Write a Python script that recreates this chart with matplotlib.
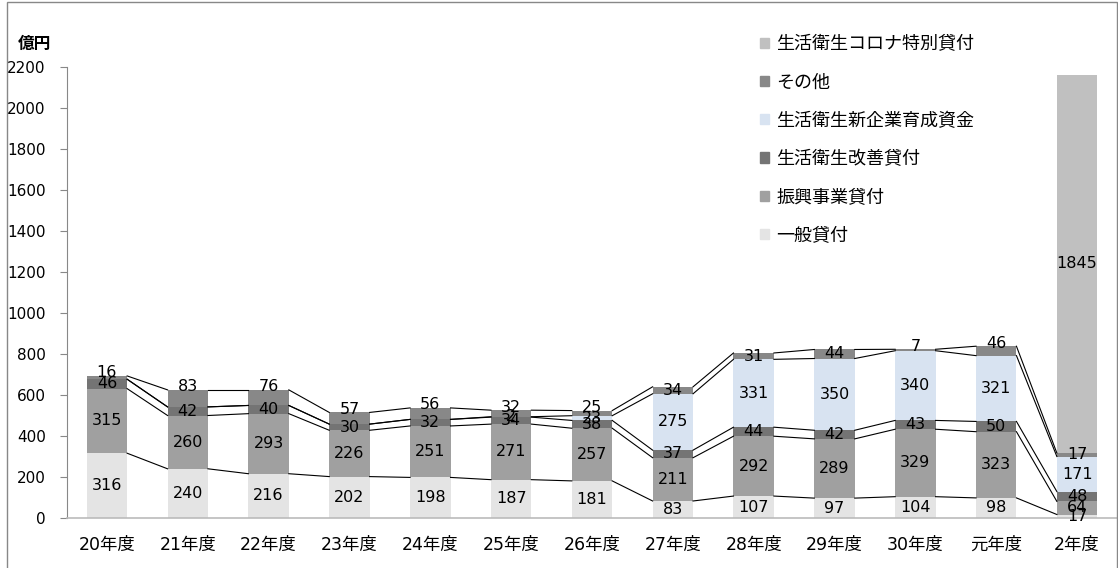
import matplotlib
matplotlib.use('Agg')
import matplotlib.pyplot as plt
from matplotlib.patches import Rectangle, Patch
import numpy as np

plt.rcParams['font.family'] = ['DejaVu Sans', 'Noto Sans CJK JP']

# data (億円)
years = ['20年度', '21年度', '22年度', '23年度', '24年度', '25年度', '26年度',
         '27年度', '28年度', '29年度', '30年度', '元年度', '2年度']
ippan = [316, 240, 216, 202, 198, 187, 181, 83, 107, 97, 104, 98, 17]
shinko = [315, 260, 293, 226, 251, 271, 257, 211, 292, 289, 329, 323, 64]
kaizen = [46, 42, 40, 30, 32, 34, 38, 37, 44, 42, 43, 50, 48]
shinkigyo = [0, 0, 0, 0, 0, 2, 23, 275, 331, 350, 340, 321, 171]
sonota = [16, 83, 76, 57, 56, 32, 25, 34, 31, 44, 7, 46, 17]
corona = [0, 0, 0, 0, 0, 0, 0, 0, 0, 0, 0, 0, 1845]

names = ['一般貸付', '振興事業貸付', '生活衛生改善貸付', '生活衛生新企業育成資金', 'その他', '生活衛生コロナ特別貸付']
series = [ippan, shinko, kaizen, shinkigyo, sonota, corona]
colors = ['#e4e4e4', '#a0a0a0', '#747474', '#d8e3f1', '#888888', '#c0c0c0']

fig = plt.figure(figsize=(11.18, 5.68), dpi=100)
ax = fig.add_axes([66.5 / 1118, 50 / 568, 1051 / 1118, 451 / 568])

x = np.arange(len(years))
w = 0.5
bottom = np.zeros(len(years))
tops = []
for vals, name, c in zip(series, names, colors):
    vals = np.array(vals, dtype=float)
    ax.bar(x, vals, w, bottom=bottom, color=c, label=name, zorder=2)
    for i, v in enumerate(vals):
        if v <= 0:
            continue
        # その他 labels sit at the top edge of the bar in most years
        if name == 'その他' and i not in (7, 8, 9, 12):
            ypos = bottom[i] + v + 15
        else:
            ypos = bottom[i] + v / 2
        ax.text(x[i], ypos, str(int(v)), ha='center', va='center', fontsize=11.5, zorder=4)
    bottom = bottom + vals
    tops.append(bottom.copy())

# series lines between bars (not for corona)
for t in tops[:5]:
    for i in range(len(years) - 1):
        ax.plot([x[i] + w / 2, x[i + 1] - w / 2], [t[i], t[i + 1]], color='black', lw=0.8, zorder=3)

ax.set_xlim(-0.5, 12.5)
ax.set_ylim(0, 2200)
ax.set_yticks(range(0, 2201, 200))
ax.set_xticks(x)
ax.set_xticklabels(years, fontsize=12.5)
ax.tick_params(axis='y', labelsize=11, length=5, color='#888888', pad=10)
ax.tick_params(axis='x', length=0, pad=13)
for s in ['top', 'right']:
    ax.spines[s].set_visible(False)
ax.spines['left'].set_color('#888888')
ax.spines['bottom'].set_color('#bbbbbb')
ax.spines['bottom'].set_linewidth(1.2)

fig.text(18 / 1118, 1 - 44 / 568, '億円', fontsize=12, fontweight='bold', va='center', ha='left')

handles = [Patch(color=c, label=n) for n, c in zip(names, colors)][::-1]
fig.legend(handles=handles, loc='upper left', bbox_to_anchor=(744 / 1118, 1 - 19 / 568),
           frameon=False, fontsize=13, handlelength=0.5, handleheight=0.5,
           handletextpad=0.4, labelspacing=1.12)

fig.patches.append(Rectangle((7 / 1118, -0.01), 1110 / 1118, 0.01 + 566 / 568,
                             transform=fig.transFigure, fill=False, edgecolor='#888888', lw=1))

fig.savefig('out.png', dpi=100)
